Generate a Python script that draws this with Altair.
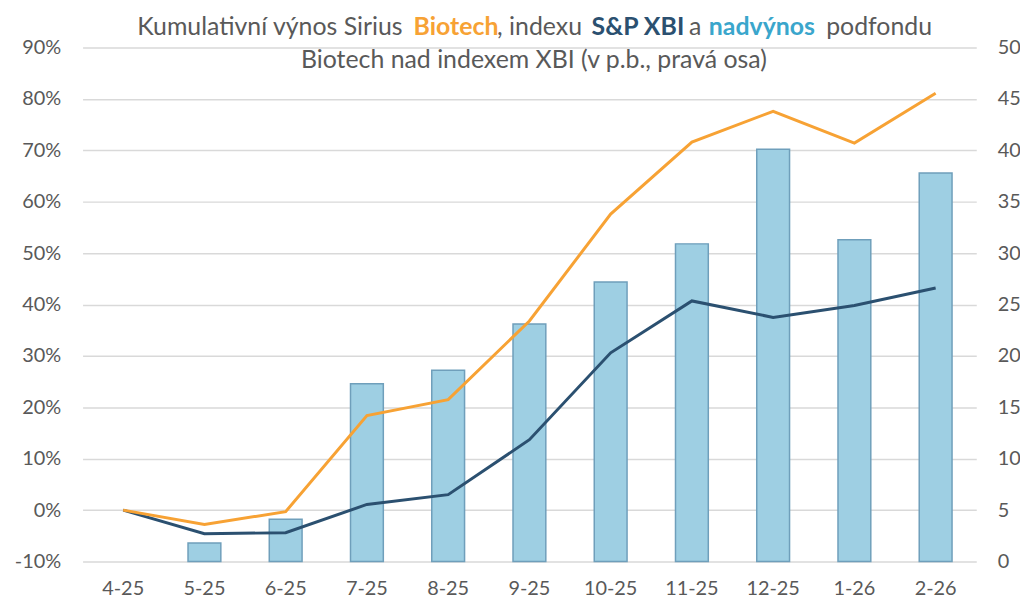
import altair as alt
import pandas as pd

months = ["4-25", "5-25", "6-25", "7-25", "8-25", "9-25", "10-25", "11-25", "12-25", "1-26", "2-26"]
biotech = [0.0, -2.8, -0.3, 18.4, 21.5, 36.8, 57.6, 71.6, 77.6, 71.4, 81.1]
xbi = [0.0, -4.6, -4.4, 1.1, 3.0, 13.7, 30.6, 40.7, 37.5, 39.8, 43.2]
excess = [None, 1.8, 4.1, 17.3, 18.6, 23.1, 27.2, 30.9, 40.1, 31.3, 37.8]

left_ticks = [-10, 0, 10, 20, 30, 40, 50, 60, 70, 80, 90]
right_ticks = [0, 5, 10, 15, 20, 25, 30, 35, 40, 45, 50]

ORANGE = "#F7A234"
NAVY = "#2B5070"
BAR_FILL = "#9ECFE3"
BAR_STROKE = "#6F9FBB"
TEXT = "#595959"
LIGHTBLUE = "#3AA6CC"
FONT = "Lato"

df = pd.DataFrame({"month": months, "biotech": biotech, "xbi": xbi, "excess": excess})

xenc = alt.X("month:N", sort=months, title=None,
             scale=alt.Scale(paddingInner=0, paddingOuter=0),
             axis=alt.Axis(labelAngle=0, ticks=False, domain=False, labelPadding=17,
                           labelFontSize=20, labelColor=TEXT, labelFont=FONT))

bars = alt.Chart(df).mark_bar(size=33, color=BAR_FILL, stroke=BAR_STROKE, strokeWidth=1.5).encode(
    x=xenc,
    y=alt.Y("excess:Q", title=None,
            scale=alt.Scale(domain=[0, 50], nice=False, zero=False),
            axis=alt.Axis(orient="right", values=right_ticks, grid=False, ticks=False, domain=False,
                          labelPadding=21, labelFontSize=20, labelColor=TEXT, labelFont=FONT)),
)

leftaxis = alt.Axis(orient="left", values=left_ticks, grid=True, gridColor="#D9D9D9", gridWidth=1.5,
                    ticks=False, domain=False, labelPadding=22, labelFontSize=20,
                    labelColor=TEXT, labelFont=FONT, labelExpr="datum.value + '%'")
yscale = alt.Scale(domain=[-10, 90], nice=False, zero=False)

line_xbi = alt.Chart(df).mark_line(color=NAVY, strokeWidth=3).encode(
    x=xenc, y=alt.Y("xbi:Q", title=None, scale=yscale, axis=leftaxis))
line_bio = alt.Chart(df).mark_line(color=ORANGE, strokeWidth=3).encode(
    x=xenc, y=alt.Y("biotech:Q", title=None, scale=yscale, axis=leftaxis))

one = pd.DataFrame({"k": [0]})

def seg(text, x, y, color=TEXT, bold=False, align="left"):
    return alt.Chart(one).mark_text(text=text, align=align, baseline="alphabetic", font=FONT,
                                    fontSize=25, fontWeight="bold" if bold else "normal",
                                    color=color).encode(x=alt.value(x), y=alt.value(y))

title_layers = [
    seg("Kumulativní výnos Sirius", 55, -13),
    seg("Biotech", 333, -13, ORANGE, True),
    seg(", indexu", 417, -13),
    seg("S&P XBI", 512, -13, NAVY, True),
    seg("a", 610, -13),
    seg("nadvýnos", 630, -13, LIGHTBLUE, True),
    seg("podfondu", 748, -13),
    seg("Biotech nad indexem XBI (v p.b., pravá osa)", 454, 21, align="center"),
]

left_layer = alt.layer(line_xbi, line_bio)
chart = alt.layer(bars, left_layer, *title_layers).resolve_scale(y="independent").properties(
    width=899, height=517,
    autosize=alt.AutoSizeParams(type="none"),
    padding={"left": 75, "top": 38, "right": 44, "bottom": 45},
).configure_view(stroke=None)

chart.save("out.html", embed_options={"renderer": "svg", "actions": False})
